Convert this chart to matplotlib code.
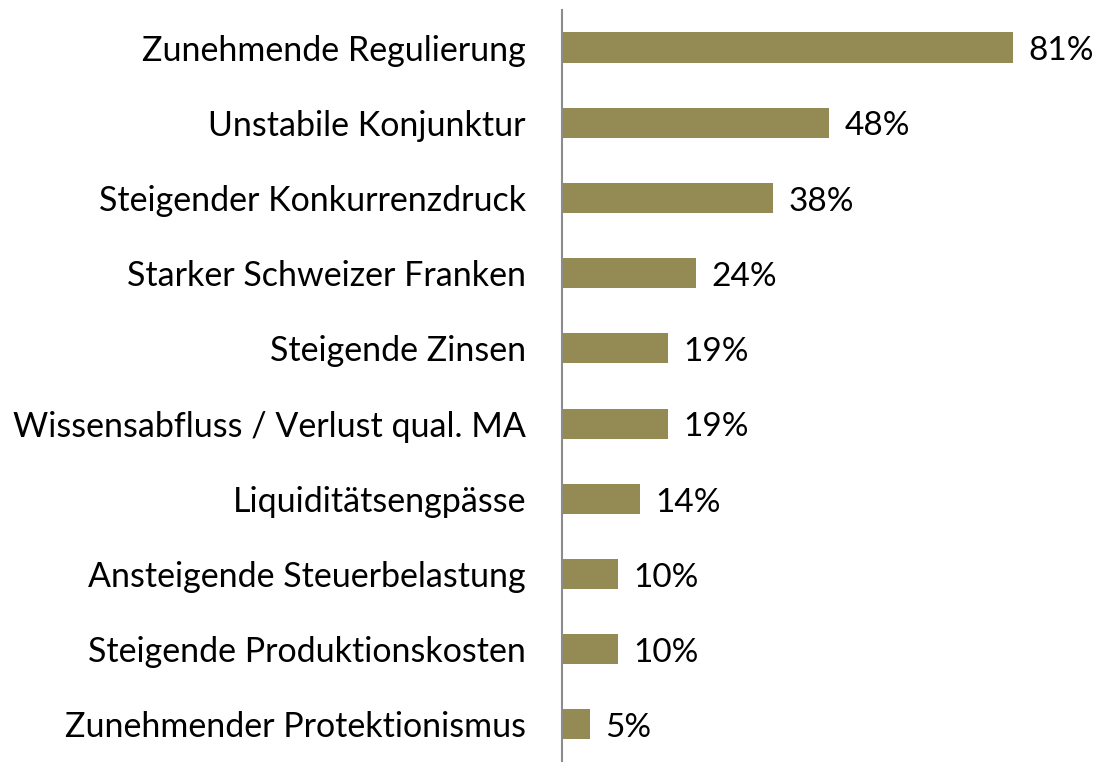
import matplotlib.pyplot as plt

categories = ['Zunehmende Regulierung', 'Unstabile Konjunktur', 'Steigender Konkurrenzdruck',
              'Starker Schweizer Franken', 'Steigende Zinsen', 'Wissensabfluss / Verlust qual. MA',
              'Liquiditätsengpässe', 'Ansteigende Steuerbelastung', 'Steigende Produktionskosten',
              'Zunehmender Protektionismus']
values = [81, 48, 38, 24, 19, 19, 14, 10, 10, 5]

plt.rcParams['font.family'] = ['Lato', 'DejaVu Sans']

fig = plt.figure(figsize=(10.96, 7.62), dpi=100)
ax = fig.add_axes([0.5128, 0.0, 0.4872, 0.987])

y = range(len(categories))
ax.barh(y, values, height=0.4, color='#948A54')
for i, v in enumerate(values):
    ax.text(v + 2.8, i + 0.05, f'{v}%', va='center', ha='left', fontsize=24)

ax.set_xlim(0, 96)
ax.set_ylim(len(categories) - 0.5, -0.5)
ax.set_yticks(list(y))
ax.set_yticklabels(categories, fontsize=24.5)
ax.tick_params(axis='y', length=0, pad=26)
ax.set_xticks([])
for s in ['top', 'right', 'bottom']:
    ax.spines[s].set_visible(False)
ax.spines['left'].set_color('#8c8c8c')
ax.spines['left'].set_linewidth(1.5)

fig.savefig('out.png', dpi=100)
